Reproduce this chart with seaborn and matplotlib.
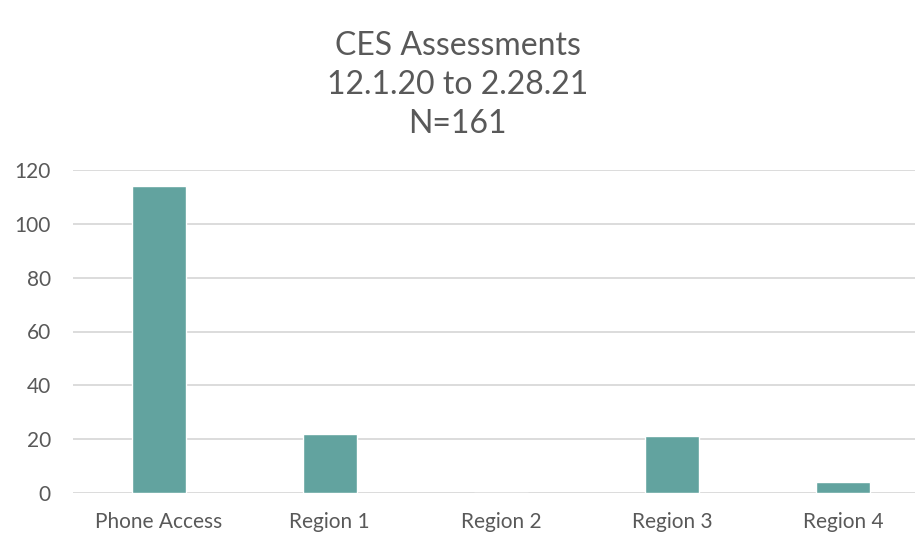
import matplotlib
matplotlib.use("Agg")
import matplotlib.pyplot as plt
import seaborn as sns
import pandas as pd

# chart data
categories = ["Phone Access", "Region 1", "Region 2", "Region 3", "Region 4"]
counts = [114, 22, 0, 21, 4]
title_lines = ["CES Assessments", "12.1.20 to 2.28.21", "N=161"]

df = pd.DataFrame({"location": categories, "count": counts})

sns.set_style("white")
plt.rcParams["font.family"] = ["Lato", "DejaVu Sans"]

text_color = "#595959"
bar_color = "#62A39F"
grid_color = "#D9D9D9"

fig = plt.figure(figsize=(9.15, 5.39), dpi=100)
ax = fig.add_axes([73 / 915, 1 - 493 / 539, 856 / 915, (493 - 170) / 539])

sns.barplot(data=df, x="location", y="count", color=bar_color,
            width=0.315, saturation=1, ax=ax, zorder=3)

ax.set_ylim(0, 120)
ax.set_xlim(-0.5, 4.5)
ax.set_yticks(range(0, 121, 20))
ax.yaxis.grid(True, color=grid_color, linewidth=1.3, zorder=0)
ax.set_axisbelow(True)
for s in ax.spines.values():
    s.set_visible(False)
ax.tick_params(axis="both", length=0, labelsize=15, colors=text_color)
ax.tick_params(axis="y", pad=16)
ax.tick_params(axis="x", pad=14)
ax.set_xlabel("")
ax.set_ylabel("")

for i, line in enumerate(title_lines):
    fig.text(0.5, 1 - (46 + i * 39) / 539, line, ha="center", va="center",
             fontsize=23, color=text_color)

fig.savefig("out.png", dpi=100)
